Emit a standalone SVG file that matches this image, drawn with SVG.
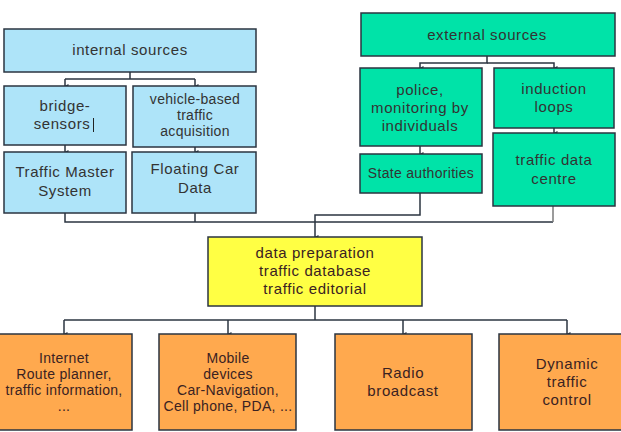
<svg xmlns="http://www.w3.org/2000/svg" width="621" height="432" viewBox="0 0 621 432">
<defs>
<marker id="ah" markerWidth="6" markerHeight="6" refX="2.5" refY="5" orient="auto" markerUnits="userSpaceOnUse">
<path d="M0.5,1.5 L4.5,1.5 L2.5,5.5 Z" fill="#2b3440"/>
</marker>
<style>
.blue{fill:#aee4f9;stroke:#2b3440;stroke-width:1.5}
.green{fill:#00e3a8;stroke:#2b3440;stroke-width:1.5}
.yellow{fill:#ffff44;stroke:#2b3440;stroke-width:1.5}
.orange{fill:#ffa94e;stroke:#2b3440;stroke-width:1.5}
text{font-family:"Liberation Sans",Arial,sans-serif;font-size:15px;letter-spacing:0.6px;fill:#333;text-anchor:middle}
.s{font-size:14px;letter-spacing:0.3px}
.w{fill:#3a2222}
.c{fill:none;stroke:#2b3440;stroke-width:1.5}
.g{fill:none;stroke:#7a7a7a;stroke-width:1.5}
</style>
</defs>
<rect width="621" height="432" fill="#fff"/>
<g id="connectors">
<path class="c" d="M130,72 V79 M65,79 H195"/>
<path class="c" d="M65,79 V86" marker-end="url(#ah)"/>
<path class="c" d="M195,79 V86" marker-end="url(#ah)"/>
<path class="c" d="M65,145 V152" marker-end="url(#ah)"/>
<path class="c" d="M195,147 V152" marker-end="url(#ah)"/>
<path class="c" d="M487,56 V63 H420 V68" marker-end="url(#ah)"/>
<path class="c" d="M487,63 H554 V68" marker-end="url(#ah)"/>
<path class="c" d="M420,146 V154" marker-end="url(#ah)"/>
<path class="c" d="M554,128 V133" marker-end="url(#ah)"/>
<path class="c" d="M65,213 V222 H553"/>
<path class="c" d="M195,213 V222"/>
<path class="g" d="M553,206 V222"/>
<path class="c" d="M420,193 V215 H315 V237" marker-end="url(#ah)"/>
<path class="c" d="M315,306 V320"/>
<path class="c" d="M64,320 H567"/>
<path class="c" d="M64,320 V334" marker-end="url(#ah)"/>
<path class="c" d="M228,320 V334" marker-end="url(#ah)"/>
<path class="c" d="M403,320 V334" marker-end="url(#ah)"/>
<path class="c" d="M567,320 V334" marker-end="url(#ah)"/>
</g>
<g id="internal-sources"><rect class="blue" x="4" y="29" width="252" height="43"/><text x="130" y="55">internal sources</text></g>
<g id="bridge-sensors"><rect class="blue" x="4" y="86" width="122" height="59"/><text x="65" y="111">bridge-</text><text x="62" y="129">sensors</text><line x1="93.5" y1="118" x2="93.5" y2="132" stroke="#222" stroke-width="1"/></g>
<g id="vehicle-based"><rect class="blue" x="133" y="86" width="123" height="61"/><text class="s" x="195" y="104">vehicle-based</text><text class="s" x="195" y="120">traffic</text><text class="s" x="195" y="136">acquisition</text></g>
<g id="traffic-master"><rect class="blue" x="4" y="152" width="122" height="61"/><text x="65" y="177">Traffic Master</text><text x="65" y="196">System</text></g>
<g id="floating-car"><rect class="blue" x="132" y="152" width="124" height="61"/><text x="195" y="174">Floating Car</text><text x="195" y="193">Data</text></g>
<g id="external-sources"><rect class="green" x="361" y="13" width="254" height="43"/><text x="487" y="40">external sources</text></g>
<g id="police"><rect class="green" x="360" y="68" width="122" height="78"/><text x="420" y="95">police,</text><text x="420" y="113">monitoring by</text><text x="420" y="131">individuals</text></g>
<g id="induction-loops"><rect class="green" x="494" y="68" width="120" height="60"/><text x="554" y="94">induction</text><text x="554" y="112">loops</text></g>
<g id="state-authorities"><rect class="green" x="360" y="154" width="122" height="39"/><text class="s" x="421" y="178">State authorities</text></g>
<g id="traffic-data-centre"><rect class="green" x="493" y="133" width="122" height="73"/><text x="554" y="165">traffic data</text><text x="554" y="184">centre</text></g>
<g id="data-preparation"><rect class="yellow" x="208" y="237" width="214" height="69"/><text class="w" x="315" y="258">data preparation</text><text class="w" x="315" y="276">traffic database</text><text class="w" x="315" y="294">traffic editorial</text></g>
<g id="internet"><rect class="orange" x="-1" y="334" width="133" height="96"/><text class="s w" x="64" y="363">Internet</text><text class="s w" x="64" y="379">Route planner,</text><text class="s w" x="64" y="395">traffic information,</text><text class="s w" x="64" y="411">...</text></g>
<g id="mobile"><rect class="orange" x="159" y="334" width="137" height="96"/><text class="s w" x="228" y="363">Mobile</text><text class="s w" x="228" y="379">devices</text><text class="s w" x="228" y="395">Car-Navigation,</text><text class="s w" x="228" y="411">Cell phone, PDA, ...</text></g>
<g id="radio"><rect class="orange" x="335" y="334" width="137" height="96"/><text class="w" x="403" y="378">Radio</text><text class="w" x="403" y="396">broadcast</text></g>
<g id="dynamic"><rect class="orange" x="499" y="334" width="123" height="96"/><text class="w" x="567" y="369">Dynamic</text><text class="w" x="567" y="387">traffic</text><text class="w" x="567" y="405">control</text></g>
</svg>
